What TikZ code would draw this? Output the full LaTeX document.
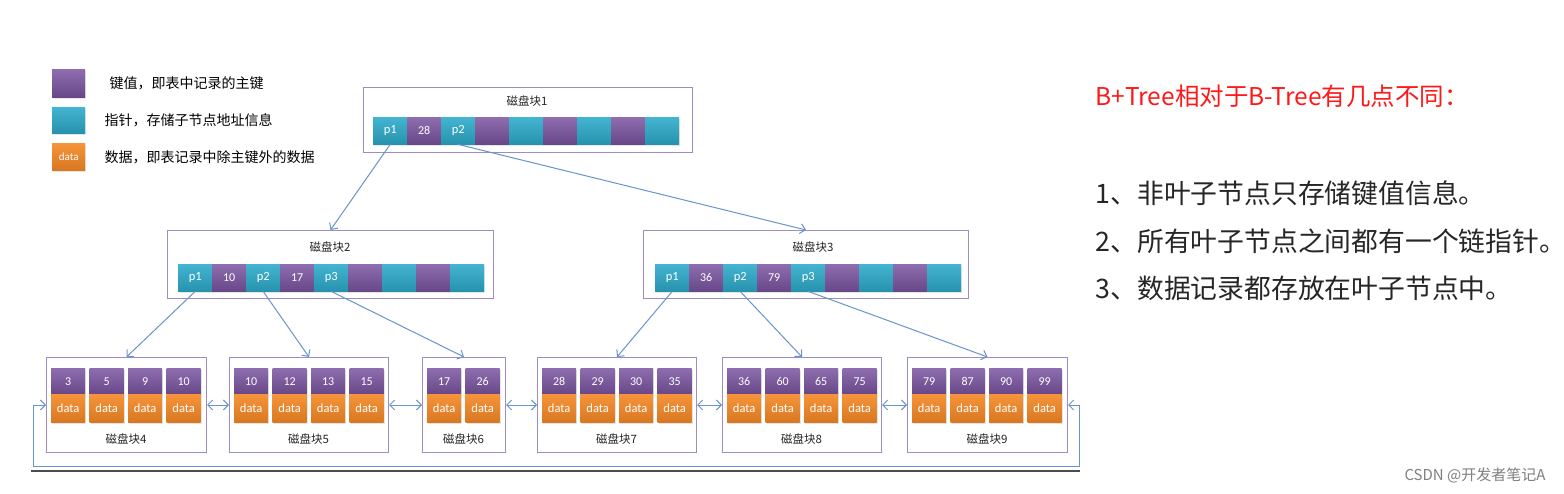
\documentclass[tikz,border=0pt]{standalone}
\usepackage{fontspec}
\setmainfont{Carlito}
\newfontfamily\cjk{Noto Sans CJK SC}
\usetikzlibrary{arrows.meta, shadows, positioning}
\usepackage{xcolor}
\definecolor{keypurple}{RGB}{122,84,160}
\tikzset{keycell/.style={rectangle, top color=keypurple!85!white, bottom color=keypurple!85!black, text=white, minimum width=34pt, minimum height=27pt, inner sep=0pt, font=\fontsize{12}{14}\selectfont, drop shadow={shadow xshift=1pt, shadow yshift=-1.5pt, opacity=0.2}}}
\definecolor{ptrteal}{RGB}{46,172,204}
\tikzset{ptrcell/.style={rectangle, top color=ptrteal!90!white, bottom color=ptrteal!85!black, text=white, minimum width=34pt, minimum height=27pt, inner sep=0pt, font=\fontsize{12.5}{14}\selectfont, drop shadow={shadow xshift=1pt, shadow yshift=-1.5pt, opacity=0.2}}}
\definecolor{dataorange}{RGB}{245,136,36}
\tikzset{datacell/.style={rectangle, top color=dataorange!90!white, bottom color=dataorange!88!black, text=white, minimum width=34pt, minimum height=28pt, inner sep=0pt, font=\fontsize{12.5}{14}\selectfont, drop shadow={shadow xshift=1pt, shadow yshift=-1.5pt, opacity=0.2}}}
\definecolor{boxlilac}{RGB}{160,140,196}
\tikzset{diskbox/.style={rectangle, draw=boxlilac, line width=1pt, fill=white, inner sep=0pt},
disklabel/.style={font=\fontsize{11.5}{13}\selectfont\cjk, text=black!85, inner sep=0pt}}
\definecolor{linkblue}{RGB}{104,148,206}
\tikzset{treelink/.style={linkblue, line width=1pt, -{Straight Barb[length=5pt, width=10pt]}},
leaflink/.style={linkblue, line width=1pt, {Straight Barb[length=5pt, width=10pt]}-{Straight Barb[length=5pt, width=10pt]}}}
\definecolor{notered}{RGB}{255,24,24}

\begin{document}
\begin{tikzpicture}[x=1pt, y=-1pt]
        \useasboundingbox[fill=white] (0,0) rectangle (1564,494);
        % Legend
        \node[keycell, minimum width=33pt, minimum height=28pt, anchor=north west] (legkey) at (52,69) {};
        \node[ptrcell, minimum width=33pt, minimum height=26pt, anchor=north west] (legptr) at (52,107) {};
        \node[datacell, minimum width=33pt, minimum height=27pt, anchor=north west, font=\fontsize{11}{12}\selectfont] (legdata) at (52,143) {data};
        \node[anchor=west, font=\fontsize{14}{16}\selectfont\cjk] (legkeytext) at (106,83) {键值，即表中记录的主键};
        \node[anchor=west, font=\fontsize{14}{16}\selectfont\cjk] (legptrtext) at (101,120) {指针，存储子节点地址信息};
        \node[anchor=west, font=\fontsize{14}{16}\selectfont\cjk] (legdatatext) at (101,157) {数据，即表记录中除主键外的数据};
        % Disk block 1
        \node[diskbox, minimum width=329pt, minimum height=65pt, anchor=north west] (disk1) at (363,87) {};
        \node[disklabel] (disk1-title) at (527,101) {磁盘块1};
        \foreach \i/\cell/\txt in {0/ptrcell/p1, 1/keycell/28, 2/ptrcell/p2, 3/keycell/{}, 4/ptrcell/{}, 5/keycell/{}, 6/ptrcell/{}, 7/keycell/{}, 8/ptrcell/{}} {
            \node[\cell, anchor=north west] (disk1-c\i) at ({373+34*\i},117) {\txt};
        }
        % Disk block 2
        \node[diskbox, minimum width=326pt, minimum height=68pt, anchor=north west] (disk2) at (167,230) {};
        \node[disklabel] (disk2-title) at (330,247) {磁盘块2};
        \foreach \i/\cell/\txt in {0/ptrcell/p1, 1/keycell/10, 2/ptrcell/p2, 3/keycell/17, 4/ptrcell/p3, 5/keycell/{}, 6/ptrcell/{}, 7/keycell/{}, 8/ptrcell/{}} {
            \node[\cell, anchor=north west] (disk2-c\i) at ({178+34*\i},264) {\txt};
        }
        % Disk block 3
        \node[diskbox, minimum width=325pt, minimum height=68pt, anchor=north west] (disk3) at (643,230) {};
        \node[disklabel] (disk3-title) at (813,247) {磁盘块3};
        \foreach \i/\cell/\txt in {0/ptrcell/p1, 1/keycell/36, 2/ptrcell/p2, 3/keycell/79, 4/ptrcell/p3, 5/keycell/{}, 6/ptrcell/{}, 7/keycell/{}, 8/ptrcell/{}} {
            \node[\cell, anchor=north west] (disk3-c\i) at ({655+34*\i},264) {\txt};
        }
        % Leaf blocks
        \foreach \n/\lx/\w/\keys in {
            4/46/160/{3,5,9,10},
            5/229/159/{10,12,13,15},
            6/422/83/{17,26},
            7/537/159/{28,29,30,35},
            8/722/159/{36,60,65,75},
            9/907/160/{79,87,90,99}} {
            \node[diskbox, minimum width=\w pt, minimum height=95pt, anchor=north west] (leaf\n) at (\lx,357) {};
            \node[disklabel] (leaf\n-title) at ({\lx+\w/2},439) {磁盘块\n};
            \foreach \k [count=\j from 0] in \keys {
                \node[keycell, minimum height=26pt, anchor=north west] (leaf\n-key\j) at ({\lx+5+38.5*\j},368) {\k};
                \node[datacell, anchor=north] (leaf\n-data\j) at (leaf\n-key\j.south) {data};
            }
        }
        % Tree links
        \draw[treelink] (disk1-c0.south) -- (disk2.north);
        \draw[treelink] (disk1-c2.south) -- (disk3.north);
        \draw[treelink] (disk2-c0.south) -- (leaf4.north);
        \draw[treelink] (disk2-c2.south) -- (leaf5.north);
        \draw[treelink] (disk2-c4.south) -- (leaf6.north);
        \draw[treelink] (disk3-c0.south) -- (leaf7.north);
        \draw[treelink] (disk3-c2.south) -- (leaf8.north);
        \draw[treelink] (disk3-c4.south) -- (leaf9.north);
        % Leaf chain
        \draw[leaflink] (leaf4.east) -- (leaf5.west);
        \draw[leaflink] (leaf5.east) -- (leaf6.west);
        \draw[leaflink] (leaf6.east) -- (leaf7.west);
        \draw[leaflink] (leaf7.east) -- (leaf8.west);
        \draw[leaflink] (leaf8.east) -- (leaf9.west);
        \coordinate (loopleft) at (33,466);
        \draw[leaflink] (leaf9.east) -- ++(11,0) |- (loopleft) |- (leaf4.west);
        \draw[black!70, line width=1.5pt] (31,471) -- (1080,471);
        % Notes
        \node[anchor=west, text=notered, font=\fontsize{24.5}{28}\selectfont\cjk] (notetitle) at (1092,96) {B+Tree相对于B-Tree有几点不同：};
        \node[anchor=west, text=black!85, font=\fontsize{26.8}{31}\selectfont\cjk] (note1) at (1092,193) {1、非叶子节点只存储键值信息。};
        \node[anchor=west, text=black!85, font=\fontsize{26.8}{31}\selectfont\cjk] (note2) at (1092,241) {2、所有叶子节点之间都有一个链指针。};
        \node[anchor=west, text=black!85, font=\fontsize{26.8}{31}\selectfont\cjk] (note3) at (1092,288) {3、数据记录都存放在叶子节点中。};
        % Watermark
        \node[anchor=east, text=black!50, font=\fontsize{15}{18}\selectfont\cjk] (mark) at (1549,475) {CSDN @开发者笔记A};
\end{tikzpicture}
\end{document}
